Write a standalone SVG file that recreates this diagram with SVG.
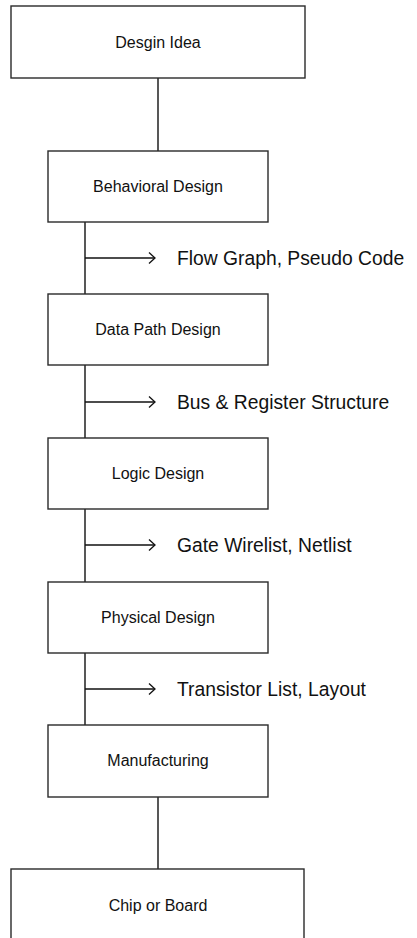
<svg xmlns="http://www.w3.org/2000/svg" width="417" height="938" viewBox="0 0 417 938">
  <defs>
    <style>
      .box { fill: #ffffff; stroke: #2a2a2a; stroke-width: 1.4; }
      .wire { fill: none; stroke: #111111; stroke-width: 1.4; }
      .label { font-family: "Liberation Sans", Arial, sans-serif; font-size: 16px; fill: #111111; text-anchor: middle; }
      .note { font-family: "Liberation Sans", Arial, sans-serif; font-size: 19.3px; fill: #111111; }
    </style>
    <marker id="chevron" markerWidth="10" markerHeight="12" refX="8" refY="6" orient="auto" markerUnits="userSpaceOnUse">
      <path d="M2,0.5 L8,6 L2,11.5" fill="none" stroke="#111111" stroke-width="1.3"/>
    </marker>
  </defs>

  <rect width="417" height="938" fill="#ffffff"/>

  <!-- connectors -->
  <g id="connectors">
    <line class="wire" x1="158" y1="78" x2="158" y2="151"/>
    <line class="wire" x1="85" y1="222" x2="85" y2="294"/>
    <line class="wire" x1="85" y1="365" x2="85" y2="438"/>
    <line class="wire" x1="85" y1="509" x2="85" y2="582"/>
    <line class="wire" x1="85" y1="653" x2="85" y2="725"/>
    <line class="wire" x1="158" y1="797" x2="158" y2="869"/>
    <line class="wire" x1="85" y1="258" x2="155" y2="258" marker-end="url(#chevron)"/>
    <line class="wire" x1="85" y1="402" x2="155" y2="402" marker-end="url(#chevron)"/>
    <line class="wire" x1="85" y1="545" x2="155" y2="545" marker-end="url(#chevron)"/>
    <line class="wire" x1="85" y1="689" x2="155" y2="689" marker-end="url(#chevron)"/>
    <text class="note" x="177" y="265">Flow Graph, Pseudo Code</text>
    <text class="note" x="177" y="409">Bus &amp; Register Structure</text>
    <text class="note" x="177" y="552">Gate Wirelist, Netlist</text>
    <text class="note" x="177" y="696">Transistor List, Layout</text>
  </g>

  <g id="design-idea">
    <rect class="box" x="11" y="6" width="294" height="72"/>
    <text class="label" x="158" y="48">Desgin Idea</text>
  </g>

  <g id="behavioral-design">
    <rect class="box" x="48" y="151" width="220" height="71"/>
    <text class="label" x="158" y="192">Behavioral Design</text>
  </g>

  <g id="data-path-design">
    <rect class="box" x="48" y="294" width="220" height="71"/>
    <text class="label" x="158" y="335">Data Path Design</text>
  </g>

  <g id="logic-design">
    <rect class="box" x="48" y="438" width="220" height="71"/>
    <text class="label" x="158" y="479">Logic Design</text>
  </g>

  <g id="physical-design">
    <rect class="box" x="48" y="582" width="220" height="71"/>
    <text class="label" x="158" y="623">Physical Design</text>
  </g>

  <g id="manufacturing">
    <rect class="box" x="48" y="725" width="220" height="72"/>
    <text class="label" x="158" y="766">Manufacturing</text>
  </g>

  <g id="chip-or-board">
    <rect class="box" x="11" y="869" width="293" height="80"/>
    <text class="label" x="158" y="911">Chip or Board</text>
  </g>
</svg>
